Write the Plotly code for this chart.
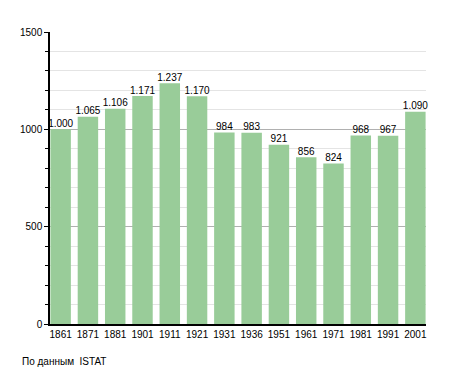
import plotly.graph_objects as go

years = ["1861", "1871", "1881", "1901", "1911", "1921", "1931", "1936",
         "1951", "1961", "1971", "1981", "1991", "2001"]
population = [1000, 1065, 1106, 1171, 1237, 1170, 984, 983, 921, 856, 824, 968, 967, 1090]

fig = go.Figure()
fig.add_trace(go.Bar(
    x=years, y=population,
    marker=dict(color="#99cc99", line=dict(width=0)),
    width=0.75,
))
fig.add_trace(go.Scatter(
    x=years, y=population, mode="text",
    texttemplate="%{y:,}", textposition="top center",
    textfont=dict(family="Liberation Sans, Arial", size=10, color="#000000"),
    cliponaxis=False, hoverinfo="skip",
))

fig.update_layout(
    width=447, height=365,
    margin=dict(l=42, r=29, t=24, b=49),
    paper_bgcolor="white", plot_bgcolor="white",
    separators=",.",
    showlegend=False,
    font=dict(family="Liberation Sans, Arial", size=10, color="#000000"),
    xaxis=dict(
        type="category", range=[-0.39, 13.39],
        showline=True, linecolor="#000000", linewidth=1.5,
        ticks="", tickfont=dict(size=10), showgrid=False, tickangle=0,
    ),
    yaxis=dict(
        range=[0, 1500], tickvals=[0, 500, 1000, 1500],
        showline=True, linecolor="#000000", linewidth=1.5,
        ticks="outside", ticklen=4, tickcolor="#000000",
        gridcolor="#b0b0b0", gridwidth=1, zeroline=False,
        tickfont=dict(size=10),
        minor=dict(tickvals=[100, 200, 300, 400, 600, 700, 800, 900, 1100, 1200, 1300, 1400],
                   ticks="outside", ticklen=3, tickcolor="#000000",
                   showgrid=True, gridcolor="#e4e4e4", gridwidth=1),
    ),
    annotations=[dict(
        text="По данным  ISTAT", xref="paper", yref="paper",
        x=-0.08, y=-0.13, xanchor="left", yanchor="middle", showarrow=False,
        font=dict(size=10, color="#000000"),
    )],
)

fig.write_html("out.html")
